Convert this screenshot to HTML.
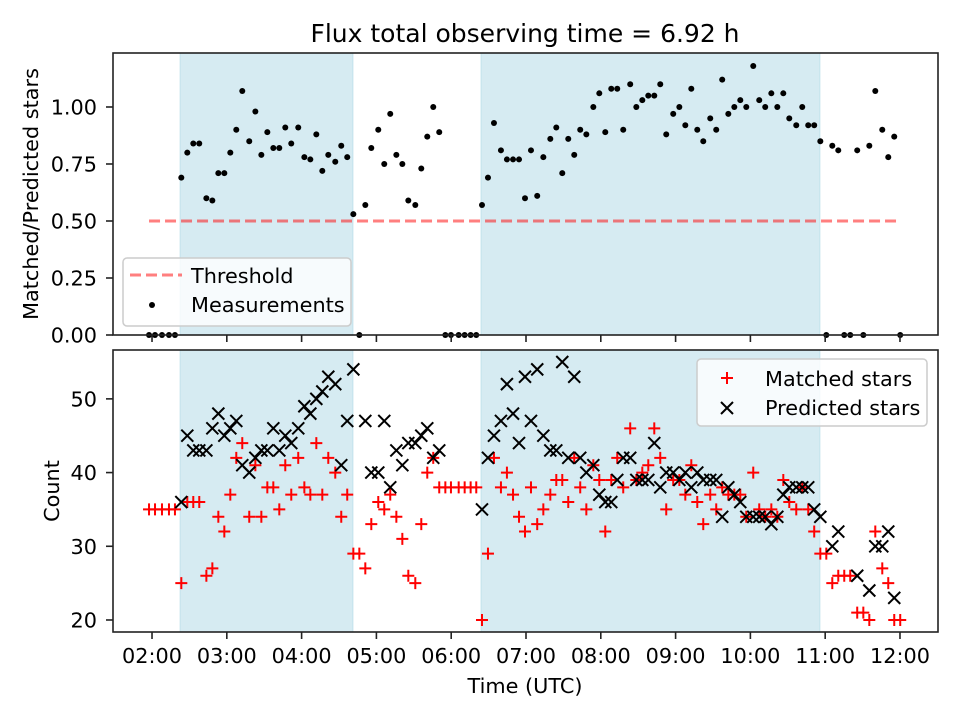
<!DOCTYPE html>
<html><head><meta charset="utf-8"><style>
html,body{margin:0;padding:0;background:#fff;}
svg{display:block;font-family:"DejaVu Sans","Liberation Sans",sans-serif;}
</style></head><body>
<svg id="chart" width="960" height="720" viewBox="0 0 960 720" xmlns="http://www.w3.org/2000/svg">
<rect width="960" height="720" fill="#fff"/>
<text x="525" y="42" font-size="25" text-anchor="middle" fill="#000">Flux total observing time = 6.92 h</text>
<g id="gtop"></g>
<g id="gbot"></g>
<text transform="translate(38,194) rotate(-90)" font-size="20.8" text-anchor="middle">Matched/Predicted stars</text>
<text transform="translate(59,491) rotate(-90)" font-size="20.8" text-anchor="middle">Count</text>
<text x="525" y="693" font-size="20.8" text-anchor="middle">Time (UTC)</text>
</svg>
<script>
// time in minutes since midnight
const times = [117.6,122.4,128,133.6,138.4,143.5,148.3,153.1,157.9,163.6,168.4,173.2,178,182.8,187.6,192.4,198,202.9,207.7,212.5,217.3,222.1,226.9,231.7,237.3,242.2,247,251.8,256.6,261.4,267,271.8,276.6,281.5,286.3,291.1,295.9,301.5,306.3,311.1,316,320.8,325.6,331.2,336,340.8,345.6,350.4,355.3,359.8,366,370.8,375.6,380.1,384.7,389.5,394.3,399.9,404.7,409.6,414.4,419.2,424,429,433.9,439.5,444.3,449.1,453.9,458.7,463.5,468.4,474,478.8,483.6,488.4,493.2,498,503.6,508.5,513.3,518.1,522.9,527.7,532.5,538.1,543,547.8,552.6,557.4,562.2,567.8,572.6,577.4,582.3,587.1,591.9,596.7,602.3,607.1,611.9,616.8,621.6,626.4,631.2,636.8,641.6,646.4,651.2,656.1,660.9,665.7,670.5,675.3,680.1,685.7,690.6,695.4,700.2,705.8,710.6,715.4,720.2];
const ratio = [0,0,0,0,0,0.69,0.80,0.84,0.84,0.60,0.59,0.71,0.71,0.80,0.90,1.07,0.85,0.98,0.79,0.89,0.82,0.82,0.91,0.84,0.91,0.78,0.77,0.88,0.72,0.79,0.76,0.83,0.78,0.53,0,0.57,0.82,0.90,0.75,0.97,0.79,0.75,0.59,0.57,0.73,0.87,1.0,0.89,0,0,0,0,0,0,0.57,0.69,0.93,0.81,0.77,0.77,0.77,0.60,0.81,0.61,0.78,0.86,0.91,0.71,0.86,0.79,0.90,0.88,1.0,1.06,0.89,1.08,1.08,0.90,1.10,1.0,1.03,1.05,1.05,1.10,0.88,0.97,1.0,0.92,1.08,0.90,0.85,0.95,0.90,1.12,0.97,1.0,1.03,1.0,1.18,1.03,1.0,1.06,1.0,1.06,0.95,0.92,1.0,0.92,0.92,0.85,0,0.83,0.81,0,0,0.81,0,0.83,1.07,0.90,0.78,0.87,0];
const matched = [35,35,35,35,35,25,36,36,36,26,27,34,32,37,42,44,34,41,34,38,38,35,41,37,42,38,37,44,37,42,40,34,37,29,29,27,33,36,35,37,34,31,26,25,33,40,42,38,38,38,38,38,38,38,20,29,42,38,40,37,34,32,38,33,35,37,39,39,36,42,38,35,41,39,32,39,42,38,46,39,40,41,46,42,35,39,39,37,41,36,33,37,35,38,37,37,37,34,40,35,34,35,34,39,36,35,38,35,32,29,29,25,26,26,26,21,21,20,32,27,25,20,20];
const predicted = [null,null,null,null,null,36,45,43,43,43,46,48,45,46,47,41,40,42,43,43,46,43,45,44,46,49,48,50,51,53,52,41,47,54,null,47,40,40,47,38,43,41,44,44,45,46,42,43,null,null,null,null,null,null,35,42,45,47,52,48,44,53,47,54,45,43,43,55,42,53,42,40,41,37,36,36,39,42,42,39,39,39,44,38,40,40,39,40,38,40,39,39,39,34,38,37,36,34,34,34,34,33,34,37,38,38,38,38,35,34,null,30,32,null,null,26,null,24,30,30,32,23,null];
const spanStarts = [142.5, 383.9];
const spanEnds = [281.2, 655.8];
const thresholdValue = [0.5];
const xTickLabels = ["02:00","03:00","04:00","05:00","06:00","07:00","08:00","09:00","10:00","11:00","12:00"];
const xTickMinutes = [120,180,240,300,360,420,480,540,600,660,720];
const topTicks = [0,0.25,0.5,0.75,1.0];
const topTickLabels = ["0.00","0.25","0.50","0.75","1.00"];
const botTicks = [20,30,40,50];
const botTickLabels = ["20","30","40","50"];

const NS="http://www.w3.org/2000/svg";
const L=113,R=938;
const xMin=88.7,xMax=750.5;
const X=t=>L+(t-xMin)/(xMax-xMin)*(R-L);
const TT=53,TB=335, tMax=1.2368;
const YT=v=>TB-v/tMax*(TB-TT);
const BT=350,BB=632, bMin=18.37,bMax=56.63;
const YB=v=>BB-(v-bMin)/(bMax-bMin)*(BB-BT);
function mk(tag,attrs,parent){const e=document.createElementNS(NS,tag);for(const k in attrs)e.setAttribute(k,attrs[k]);parent.appendChild(e);return e;}
const gTop=document.getElementById('gtop'), gBot=document.getElementById('gbot');
const FS=20.8;

function panel(g,T,B,name){
  for(let i=0;i<spanStarts.length;i++){
    const r=mk('rect',{x:X(spanStarts[i]),y:T,width:X(spanEnds[i])-X(spanStarts[i]),height:B-T,fill:'#add8e6','fill-opacity':0.5,stroke:'#add8e6','stroke-opacity':0.6},g);
    
    
  }
}
panel(gTop,TT,TB,'top');
panel(gBot,BT,BB,'bottom');

const th=mk('line',{x1:X(times[0]),x2:X(times[times.length-1]),y1:YT(thresholdValue[0]),y2:YT(thresholdValue[0]),stroke:'#ff0000','stroke-opacity':0.5,'stroke-width':3,'stroke-dasharray':'11,5'},gTop);



for(let i=0;i<times.length;i++){
  const c=mk('circle',{cx:X(times[i]),cy:YT(ratio[i]),r:3,fill:'#000'},gTop);
  
  
}
for(let i=0;i<times.length;i++){
  if(matched[i]==null)continue;
  const x=X(times[i]),y=YB(matched[i]);
  const p=mk('path',{d:`M${x-6},${y}H${x+6}M${x},${y-6}V${y+6}`,stroke:'#ff0000','stroke-width':2,fill:'none'},gBot);
  
  
}
for(let i=0;i<times.length;i++){
  if(predicted[i]==null)continue;
  const x=X(times[i]),y=YB(predicted[i]);
  const p=mk('path',{d:`M${x-6},${y-6}L${x+6},${y+6}M${x-6},${y+6}L${x+6},${y-6}`,stroke:'#000','stroke-width':2,fill:'none'},gBot);
  
  
}

function frame(g,T,B,name){
  const f=mk('rect',{x:L,y:T,width:R-L,height:B-T,fill:'none',stroke:'#222','stroke-width':1.6},g);
  
  
  for(let i=0;i<xTickMinutes.length;i++){
    const x=X(xTickMinutes[i]);
    const t=mk('line',{x1:x,x2:x,y1:B,y2:B+7,stroke:'#222','stroke-width':1.6},g);
    
    
  }
}
frame(gTop,TT,TB,'top');
frame(gBot,BT,BB,'bottom');
for(let i=0;i<xTickMinutes.length;i++){
  const tx=mk('text',{x:X(xTickMinutes[i]),y:663,'font-size':FS,'text-anchor':'middle'},gBot);
  tx.textContent=xTickLabels[i];
  
  
}
for(let i=0;i<topTicks.length;i++){
  const y=YT(topTicks[i]);
  const t=mk('line',{x1:L-7,x2:L,y1:y,y2:y,stroke:'#222','stroke-width':1.6},gTop);
  
  
  const tx=mk('text',{x:L-16,y:y+7.5,'font-size':FS,'text-anchor':'end'},gTop);
  tx.textContent=topTickLabels[i];
  
  
}
for(let i=0;i<botTicks.length;i++){
  const y=YB(botTicks[i]);
  const t=mk('line',{x1:L-7,x2:L,y1:y,y2:y,stroke:'#222','stroke-width':1.6},gBot);
  
  
  const tx=mk('text',{x:L-16,y:y+7.5,'font-size':FS,'text-anchor':'end'},gBot);
  tx.textContent=botTickLabels[i];
  
  
}

const lg1=mk('g',{},gTop);


mk('rect',{x:123,y:258,width:228,height:68,rx:4,fill:'#fff','fill-opacity':0.8,stroke:'#ccc','stroke-width':1.5},lg1);
mk('line',{x1:130,x2:182,y1:275,y2:275,stroke:'#ff0000','stroke-opacity':0.5,'stroke-width':3,'stroke-dasharray':'11,5'},lg1);
const t1=mk('text',{x:191,y:283,'font-size':FS},lg1);t1.textContent='Threshold';
mk('circle',{cx:152,cy:305,r:3,fill:'#000'},lg1);
const t2=mk('text',{x:191,y:312,'font-size':FS},lg1);t2.textContent='Measurements';

const lg2=mk('g',{},gBot);


mk('rect',{x:697,y:359,width:230,height:67,rx:4,fill:'#fff','fill-opacity':0.8,stroke:'#ccc','stroke-width':1.5},lg2);
mk('path',{d:'M721,378H733M727,372V384',stroke:'#ff0000','stroke-width':2},lg2);
const t3=mk('text',{x:765,y:386,'font-size':FS},lg2);t3.textContent='Matched stars';
mk('path',{d:'M721,402L733,414M721,414L733,402',stroke:'#000','stroke-width':2},lg2);
const t4=mk('text',{x:765,y:415,'font-size':FS},lg2);t4.textContent='Predicted stars';
</script>
</body></html>
